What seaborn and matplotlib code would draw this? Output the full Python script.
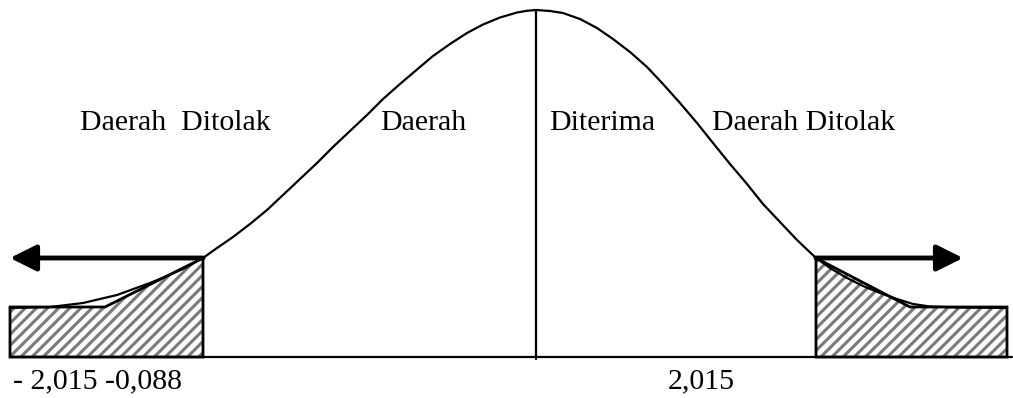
import numpy as np
import matplotlib
matplotlib.use("Agg")
import matplotlib.pyplot as plt
import seaborn as sns

# curve: x position and y (pixels from top), turned into heights below
curve_x = [10, 50, 83, 117, 150, 167, 185, 203, 217, 233, 250, 267, 283, 300, 317,
           333, 350, 367, 383, 400, 417, 433, 450, 467, 483, 500, 517, 527, 536,
           550, 563, 580, 597, 613, 630, 647, 663, 680, 697, 713, 730, 747, 763,
           780, 797, 816, 830, 847, 863, 880, 897, 913, 930, 960, 1007]
curve_y = [308, 307, 303, 295, 283, 276, 268, 258, 248, 237, 224, 210, 195, 179, 163,
           147, 131, 115, 99, 84, 69.5, 56, 44, 33, 24.5, 17.5, 12.5, 10.8, 10,
           11, 13, 19, 28, 39, 52, 67, 84, 103, 123, 143, 164, 184, 204,
           222, 240, 258, 268, 278, 286, 293, 299, 304, 306.5, 307.5, 308]
baseline_y = 357
curve_h = [baseline_y - v for v in curve_y]

# hatched rejection regions
left_x = [10, 10, 105, 203, 203]
left_h = [0, 50, 50, 99, 0]
right_x = [816, 816, 910, 1007, 1007]
right_h = [0, 99, 50, 50, 0]

# arrows (start, end) and height
arrow_left = (203, 10)
arrow_right = (816, 963)
arrow_h = 99

center_x = 536
labels = ["Daerah  Ditolak", "Daerah", "Diterima", "Daerah Ditolak"]
label_x = [80, 380, 549, 712]
label_h = 227
bottom_labels = ["- 2,015 -0,088", "2,015"]
bottom_x = [13, 668]
bottom_h = -31

sns.set_style("white")
plt.rcParams['font.family'] = ['Liberation Serif', 'DejaVu Serif']
plt.rcParams['hatch.linewidth'] = 2.2

fig = plt.figure(figsize=(10.13, 3.98), dpi=100)
ax = fig.add_axes([0, 0, 1, 1])
ax.set_xlim(0, 1013)
ax.set_ylim(-41, 357)
ax.axis('off')

# tails with hatch
ax.fill(left_x, left_h, facecolor='white', edgecolor='#7a7a7a', hatch='///', lw=0)
ax.fill(right_x, right_h, facecolor='white', edgecolor='#7a7a7a', hatch='///', lw=0)
ax.fill(left_x, left_h, fill=False, edgecolor='black', lw=2)
ax.fill(right_x, right_h, fill=False, edgecolor='black', lw=2)

sns.lineplot(x=curve_x, y=curve_h, sort=False, estimator=None, color='black', lw=1.6, ax=ax)

# baseline and centre line
ax.plot([10, 1012], [0, 0], color='black', lw=1.6)
ax.plot([center_x, center_x], [-2, 347], color='black', lw=1.6)

for a in (arrow_left, arrow_right):
    ax.annotate('', xy=(a[1], arrow_h), xytext=(a[0], arrow_h),
                arrowprops=dict(arrowstyle='-|>,head_length=1.6,head_width=0.8',
                                color='black', lw=3.5, shrinkA=0, shrinkB=0))

for t, x in zip(labels, label_x):
    ax.text(x, label_h, t, fontsize=21.5, va='baseline', ha='left', color='black')
for t, x in zip(bottom_labels, bottom_x):
    ax.text(x, bottom_h, t, fontsize=21.5, va='baseline', ha='left', color='black')

fig.savefig('out.png', dpi=100)
